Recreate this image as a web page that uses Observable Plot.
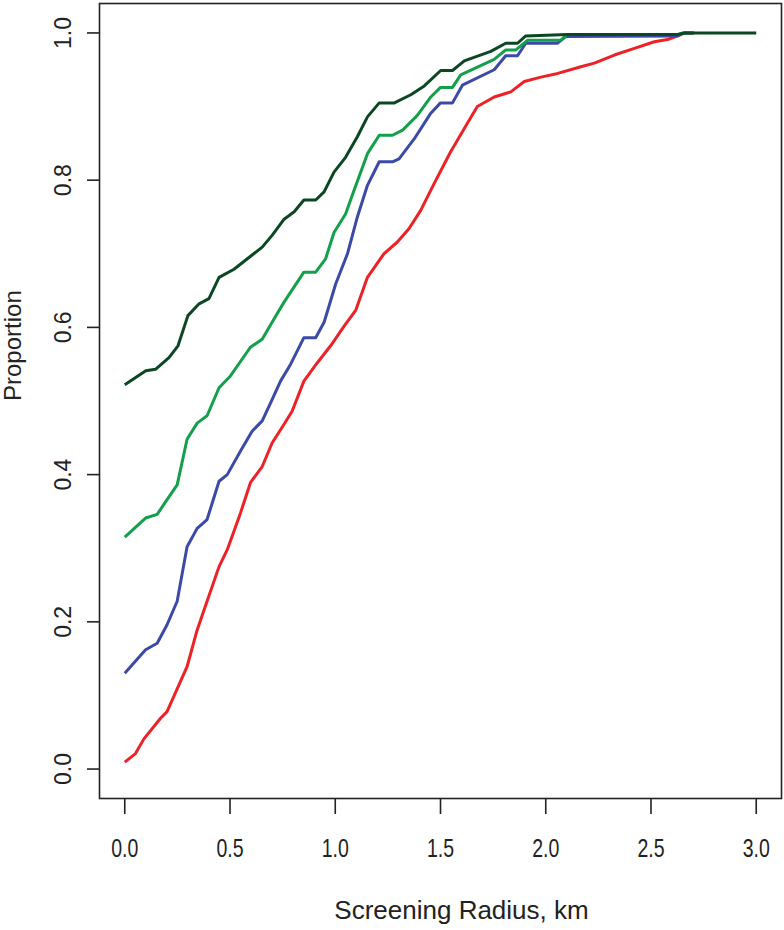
<!DOCTYPE html>
<html>
<head>
<meta charset="utf-8">
<script src="https://cdn.jsdelivr.net/npm/d3@7"></script>
<script src="https://cdn.jsdelivr.net/npm/@observablehq/plot@0.6"></script>
<style>
  html, body { margin: 0; padding: 0; background: #fff; }
  svg { font-family: "Liberation Sans", Arial, sans-serif; }
</style>
</head>
<body>
<div id="chart"></div>
<script>
const xTicks = [0, 0.5, 1, 1.5, 2, 2.5, 3];
const yTicks = [0, 0.2, 0.4, 0.6, 0.8, 1.0];

const darkGreenX = [0, 0.10, 0.146, 0.21, 0.253, 0.30, 0.353, 0.40, 0.448, 0.519, 0.59, 0.653, 0.70, 0.757, 0.805, 0.851, 0.907, 0.947, 0.994, 1.049, 1.105, 1.153, 1.209, 1.281, 1.359, 1.423, 1.501, 1.557, 1.613, 1.739, 1.81, 1.866, 1.905, 2.103, 2.627, 2.66, 3.0];
const darkGreenY = [0.522, 0.541, 0.543, 0.559, 0.575, 0.616, 0.632, 0.639, 0.668, 0.679, 0.695, 0.709, 0.725, 0.747, 0.757, 0.773, 0.773, 0.784, 0.811, 0.831, 0.859, 0.886, 0.905, 0.905, 0.916, 0.928, 0.949, 0.949, 0.962, 0.975, 0.986, 0.986, 0.996, 0.998, 0.998, 1.0, 1.0];

const greenX = [0, 0.099, 0.154, 0.201, 0.249, 0.296, 0.344, 0.391, 0.448, 0.502, 0.597, 0.653, 0.70, 0.756, 0.851, 0.907, 0.954, 0.994, 1.049, 1.089, 1.153, 1.209, 1.272, 1.32, 1.39, 1.454, 1.50, 1.557, 1.596, 1.755, 1.81, 1.858, 1.913, 2.07, 2.103, 2.627, 2.66, 2.70];
const greenY = [0.315, 0.341, 0.346, 0.366, 0.386, 0.448, 0.470, 0.480, 0.518, 0.534, 0.573, 0.584, 0.607, 0.634, 0.675, 0.675, 0.693, 0.729, 0.754, 0.786, 0.836, 0.861, 0.861, 0.868, 0.888, 0.913, 0.926, 0.926, 0.943, 0.964, 0.977, 0.977, 0.99, 0.99, 0.998, 0.998, 1.0, 1.0];

const blueX = [0, 0.099, 0.154, 0.201, 0.249, 0.296, 0.344, 0.391, 0.448, 0.487, 0.55, 0.605, 0.653, 0.70, 0.74, 0.788, 0.851, 0.907, 0.947, 1.002, 1.058, 1.105, 1.153, 1.209, 1.272, 1.303, 1.375, 1.454, 1.50, 1.557, 1.604, 1.755, 1.81, 1.866, 1.905, 2.055, 2.095, 2.627, 2.65, 2.70];
const blueY = [0.130, 0.162, 0.171, 0.196, 0.228, 0.302, 0.327, 0.339, 0.391, 0.40, 0.432, 0.459, 0.473, 0.502, 0.527, 0.55, 0.586, 0.586, 0.607, 0.659, 0.70, 0.75, 0.793, 0.825, 0.825, 0.829, 0.856, 0.891, 0.905, 0.905, 0.929, 0.95, 0.969, 0.969, 0.986, 0.986, 0.995, 0.996, 1.0, 1.0];

const redX = [0, 0.051, 0.091, 0.17, 0.201, 0.249, 0.296, 0.344, 0.391, 0.448, 0.487, 0.55, 0.597, 0.653, 0.70, 0.756, 0.795, 0.851, 0.915, 0.978, 1.043, 1.097, 1.153, 1.231, 1.295, 1.35, 1.406, 1.469, 1.547, 1.627, 1.675, 1.755, 1.834, 1.898, 1.977, 2.057, 2.167, 2.231, 2.326, 2.421, 2.516, 2.579, 2.627, 2.66, 2.707];
const redY = [0.0095, 0.021, 0.041, 0.069, 0.078, 0.109, 0.139, 0.189, 0.228, 0.275, 0.298, 0.348, 0.389, 0.411, 0.443, 0.468, 0.486, 0.527, 0.552, 0.575, 0.602, 0.623, 0.668, 0.70, 0.716, 0.734, 0.759, 0.795, 0.838, 0.877, 0.9, 0.913, 0.920, 0.934, 0.940, 0.945, 0.954, 0.959, 0.970, 0.979, 0.988, 0.991, 0.996, 1.0, 1.0];

const series = [
  {xs: redX, ys: redY, color: "#ec2227"},
  {xs: blueX, ys: blueY, color: "#3b4aa6"},
  {xs: greenX, ys: greenY, color: "#12a04a"},
  {xs: darkGreenX, ys: darkGreenY, color: "#0b4722"}
];
const toRows = s => s.xs.map((x, i) => ({x, y: s.ys[i]}));

const lineMarks = series.map(s => Plot.line(toRows(s), {
  x: "x", y: "y", stroke: s.color, strokeWidth: 3, strokeLinejoin: "round", strokeLinecap: "butt"
}));

const chart = Plot.plot({
  width: 784,
  height: 930,
  marginLeft: 99,
  marginRight: 3,
  marginTop: 3,
  marginBottom: 132,
  x: {domain: [-0.12, 3.12], axis: null},
  y: {domain: [-0.04, 1.04], axis: null},
  style: {fontFamily: '"Liberation Sans", Arial, sans-serif', color: "#222", background: "#fff"},
  marks: [
    ...lineMarks,
    Plot.frame({stroke: "#222", strokeWidth: 1.6}),
    Plot.axisX({ticks: xTicks, tickSize: 16, tickPadding: 24, fontSize: 26, tickFormat: d3.format(".1f"), strokeWidth: 1.6, label: null}),
    Plot.axisY({ticks: yTicks, tickSize: 12, tickPadding: 17, fontSize: 23, tickFormat: d3.format(".1f"), tickRotate: -90, textAnchor: "middle", lineAnchor: "bottom", strokeWidth: 1.6, label: null}),
    Plot.text(["Screening Radius, km"], {frameAnchor: "bottom", dx: 21, dy: 112, fontSize: 26, lineAnchor: "middle", fill: "#222"}),
    Plot.text(["Proportion"], {frameAnchor: "left", dx: -86, rotate: -90, fontSize: 24, lineAnchor: "middle", fill: "#222"})
  ]
});

document.getElementById("chart").appendChild(chart);

// Condense the x tick labels horizontally about their own centres, as in the reference
d3.select(chart).selectAll('g[aria-label="x-axis tick label"] text').each(function() {
  const b = this.getBBox();
  const cx = b.x + b.width / 2, cy = b.y + b.height / 2;
  const t = this.getAttribute("transform") || "";
  this.setAttribute("transform", `${t} translate(${cx},${cy}) scale(0.75,1) translate(${-cx},${-cy})`);
});
</script>
</body>
</html>
